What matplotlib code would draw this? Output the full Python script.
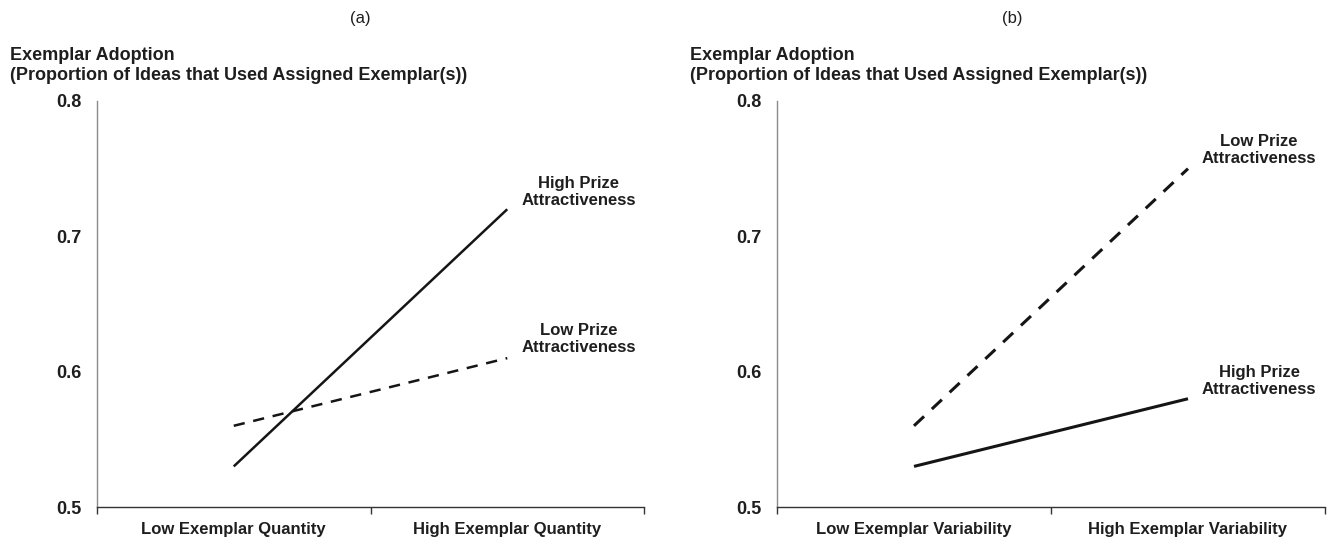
import matplotlib.pyplot as plt
from matplotlib.ticker import FixedLocator

# Exemplar adoption means (proportion of ideas using assigned exemplars)
quantity_labels = ["Low Exemplar Quantity", "High Exemplar Quantity"]
quantity_high_prize = [0.53, 0.72]
quantity_low_prize = [0.56, 0.61]

variability_labels = ["Low Exemplar Variability", "High Exemplar Variability"]
variability_high_prize = [0.53, 0.58]
variability_low_prize = [0.56, 0.75]

y_ticks = [0.5, 0.6, 0.7, 0.8]
ylabel_lines = ["Exemplar Adoption", "(Proportion of Ideas that Used Assigned Exemplar(s))"]

TEXT = "#1e1e1e"
BODY = ["Liberation Sans", "DejaVu Sans"]

W, H = 1333, 538
fig = plt.figure(figsize=(W / 100, H / 100), dpi=100)


def px_box(x0, x1, y_top, y_bot):
    return [x0 / W, 1 - y_bot / H, (x1 - x0) / W, (y_bot - y_top) / H]


def draw_panel(rect, cats, high, low, lw, high_lab_y, low_lab_y, lab_x):
    ax = fig.add_axes(rect)
    x = [0.5, 1.5]
    ax.plot(x, high, color="#151515", lw=lw, solid_capstyle="butt")
    ax.plot(x, low, color="#151515", lw=lw, linestyle=(0, (4.5, 3.5)),
            dash_capstyle="butt")
    ax.set_xlim(0, 2)
    ax.set_ylim(0.5, 0.8)

    for s in ["top", "right"]:
        ax.spines[s].set_visible(False)
    ax.spines["left"].set_color("#8a8a8a")
    ax.spines["left"].set_linewidth(1.0)
    ax.spines["bottom"].set_color("#333333")
    ax.spines["bottom"].set_linewidth(1.0)

    ax.set_yticks(y_ticks)
    ax.set_yticklabels([f"{v:.1f}" for v in y_ticks], fontsize=13,
                       fontweight="bold", color=TEXT, family=BODY)
    ax.tick_params(axis="y", length=0, pad=11)

    ax.set_xticks(x)
    ax.set_xticklabels(cats, fontsize=12, fontweight="bold", color=TEXT,
                       family=BODY)
    ax.xaxis.set_minor_locator(FixedLocator([0, 1, 2]))
    ax.tick_params(axis="x", which="major", length=0, pad=11)
    ax.tick_params(axis="x", which="minor", length=5, width=1.0,
                   color="#333333", direction="out")

    ax.text(lab_x, high_lab_y, "High Prize\nAttractiveness", ha="center",
            va="center", fontsize=12, fontweight="bold", color=TEXT,
            family=BODY, linespacing=1.15)
    ax.text(lab_x, low_lab_y, "Low Prize\nAttractiveness", ha="center",
            va="center", fontsize=12, fontweight="bold", color=TEXT,
            family=BODY, linespacing=1.15)
    return ax


ax_a = draw_panel(px_box(97, 644, 101, 507), quantity_labels,
                  quantity_high_prize, quantity_low_prize, 1.8,
                  0.733, 0.624, 1.76)
ax_b = draw_panel(px_box(777, 1325, 101, 507), variability_labels,
                  variability_high_prize, variability_low_prize, 2.2,
                  0.593, 0.764, 1.76)

# panel letters and two-line y-axis headers
for letter, lx, hx in [("(a)", 360, 10), ("(b)", 1012, 690)]:
    fig.text(lx / W, 1 - 18 / H, letter, ha="center", va="center",
             fontsize=12, color=TEXT, family=BODY)
    fig.text(hx / W, 1 - 56 / H, ylabel_lines[0], ha="left", va="center",
             fontsize=13, fontweight="bold", color=TEXT, family=BODY)
    fig.text(hx / W, 1 - 76 / H, ylabel_lines[1], ha="left", va="center",
             fontsize=13, fontweight="bold", color=TEXT, family=BODY)

fig.savefig("out.png", dpi=100)
